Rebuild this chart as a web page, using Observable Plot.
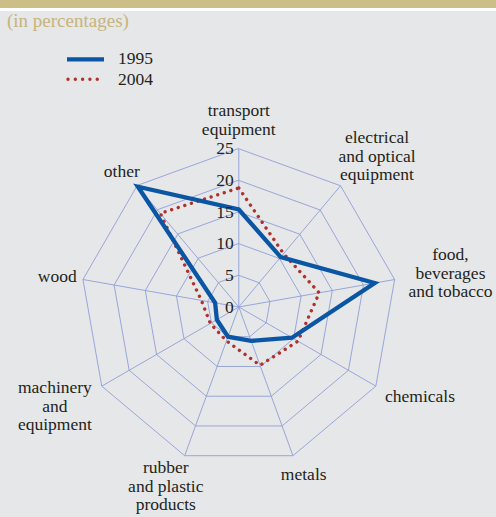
<!DOCTYPE html>
<html><head><meta charset="utf-8">
<script src="https://cdn.jsdelivr.net/npm/d3@7"></script>
<script src="https://cdn.jsdelivr.net/npm/@observablehq/plot@0.6"></script>
<style>
body{margin:0;background:#E6E7E8;}
#wrap{width:496px;height:517px;position:relative;overflow:hidden;background:#E6E7E8;font-family:"Liberation Serif","Times New Roman",serif;}
#band{position:absolute;left:0;top:0;width:496px;height:8px;background:#CBBE86;}
#rule{position:absolute;left:0;top:8px;width:496px;height:2.5px;background:#fff;}
#title{position:absolute;left:7px;top:10.8px;font-size:19px;line-height:1;color:#C6B47C;white-space:nowrap;font-family:"Liberation Serif",serif;}
.lg{position:absolute;left:118px;font-size:17.5px;line-height:1;color:#231f20;font-family:"Liberation Serif",serif;}
#legsw{position:absolute;left:0;top:0;}
#chart{position:absolute;left:0;top:95px;}
#chart svg text, #chart svg tspan{font-family:"Liberation Serif",serif !important;}
</style></head>
<body><div id="wrap">
<div id="band"></div><div id="rule"></div>
<div id="title">(in percentages)</div>
<svg id="legsw" width="140" height="95"></svg>
<div class="lg" id="lg0" style="top:50.3px"></div>
<div class="lg" id="lg1" style="top:71.3px"></div>
<div id="chart"></div>
</div>
<script>
// ---- data ----
const categories = ["transport\nequipment", "electrical\nand optical\nequipment", "food,\nbeverages\nand tobacco", "chemicals", "metals", "rubber\nand plastic\nproducts", "machinery\nand\nequipment", "wood", "other"];
const values1995 = [15.4, 10.3, 21.8, 9.7, 5.7, 5.0, 4.0, 3.8, 24.8];
const values2004 = [18.8, 11.0, 12.9, 10.8, 9.8, 5.7, 5.2, 6.0, 19.3];
const seriesNames = ["1995", "2004"];
const tickValues = [0, 5, 10, 15, 20, 25];

// ---- styles / layout ----
const BLUE = "#0A56A4", RED = "#B0302A", GRID = "#8E9ED8", INK = "#231f20";
const SERIF = '"Liberation Serif", "Times New Roman", serif';
const W = 496, H = 422, CX = 238.3, CY = 211.5, K = 6.33; // px per percent
const FONT = 17.5, LH = 1.05;
const n = categories.length;
const ang = i => i * 2 * Math.PI / n;
const pt = (r, i) => ({x: r * Math.sin(ang(i)), y: r * Math.cos(ang(i))});

document.getElementById("lg0").textContent = seriesNames[0];
document.getElementById("lg1").textContent = seriesNames[1];
const lsw = d3.select("#legsw");
lsw.append("line").attr("x1", 67).attr("x2", 104).attr("y1", 59.3).attr("y2", 59.3).attr("stroke", BLUE).attr("stroke-width", 4.2);
lsw.append("line").attr("x1", 68).attr("x2", 104).attr("y1", 79.3).attr("y2", 79.3).attr("stroke", RED).attr("stroke-width", 3.4).attr("stroke-linecap", "round").attr("stroke-dasharray", "0.01 7.3");

const maxR = tickValues[tickValues.length - 1];
const rings = tickValues.slice(1).flatMap(l => d3.range(n).map(i => ({level: l, ...pt(l, i)})));
const spokes = d3.range(n).map(i => ({x1: 0, y1: 0, ...(p => ({x2: p.x, y2: p.y}))(pt(maxR, i))}));
const s1995 = values1995.map((v, i) => pt(v, i));
const s2004 = values2004.map((v, i) => pt(v, i));

// label placement: text box pushed outward from the outer ring vertex, kept inside the frame
const ctx = document.createElement("canvas").getContext("2d");
ctx.font = `${FONT}px "Liberation Serif"`;
const RV = maxR * K;
const labels = categories.map((c, i) => {
  const lines = c.split("\n");
  const w = d3.max(lines, l => ctx.measureText(l).width);
  const h = lines.length * FONT * LH;
  const ux = Math.sin(ang(i)), uy = -Math.cos(ang(i));
  let px = ux * (RV - 5 + 1.6 * w / 2);
  px = Math.max(4 + w / 2 - CX, Math.min(W - CX - 4 - w / 2, px));
  let py = uy * (RV + 9 + 1.1 * h / 2);
  py = Math.min(H - CY - h / 2 - 4, py);
  return {text: c, x: px / K, y: -py / K};
});

const chart = Plot.plot({
  width: W, height: H, margin: 0,
  x: {domain: [-CX / K, (W - CX) / K], range: [0, W], axis: null},
  y: {domain: [-(H - CY) / K, CY / K], range: [H, 0], axis: null},
  style: {background: "transparent", fontFamily: SERIF, fontSize: FONT + "px", color: INK},
  marks: [
    Plot.line(rings, {x: "x", y: "y", z: "level", curve: "linear-closed", stroke: GRID, strokeWidth: 0.9}),
    Plot.link(spokes, {x1: "x1", y1: "y1", x2: "x2", y2: "y2", stroke: GRID, strokeWidth: 0.9}),
    Plot.line(s2004, {x: "x", y: "y", curve: "linear-closed", stroke: RED, strokeWidth: 3.4, strokeDasharray: "0.01 6.9", strokeLinecap: "round"}),
    Plot.line(s1995, {x: "x", y: "y", curve: "linear-closed", stroke: BLUE, strokeWidth: 4.3, strokeLinejoin: "miter", strokeMiterlimit: 10}),
    Plot.text(tickValues, {x: 0, y: d => d, text: d => String(d), textAnchor: "end", dx: -5, fontSize: FONT, fontFamily: SERIF, fill: INK}),
    Plot.text(labels, {x: "x", y: "y", text: "text", textAnchor: "middle", lineAnchor: "middle", lineHeight: LH, fontSize: FONT, fontFamily: SERIF, fill: INK})
  ]
});
document.getElementById("chart").append(chart);
</script>
</body></html>
